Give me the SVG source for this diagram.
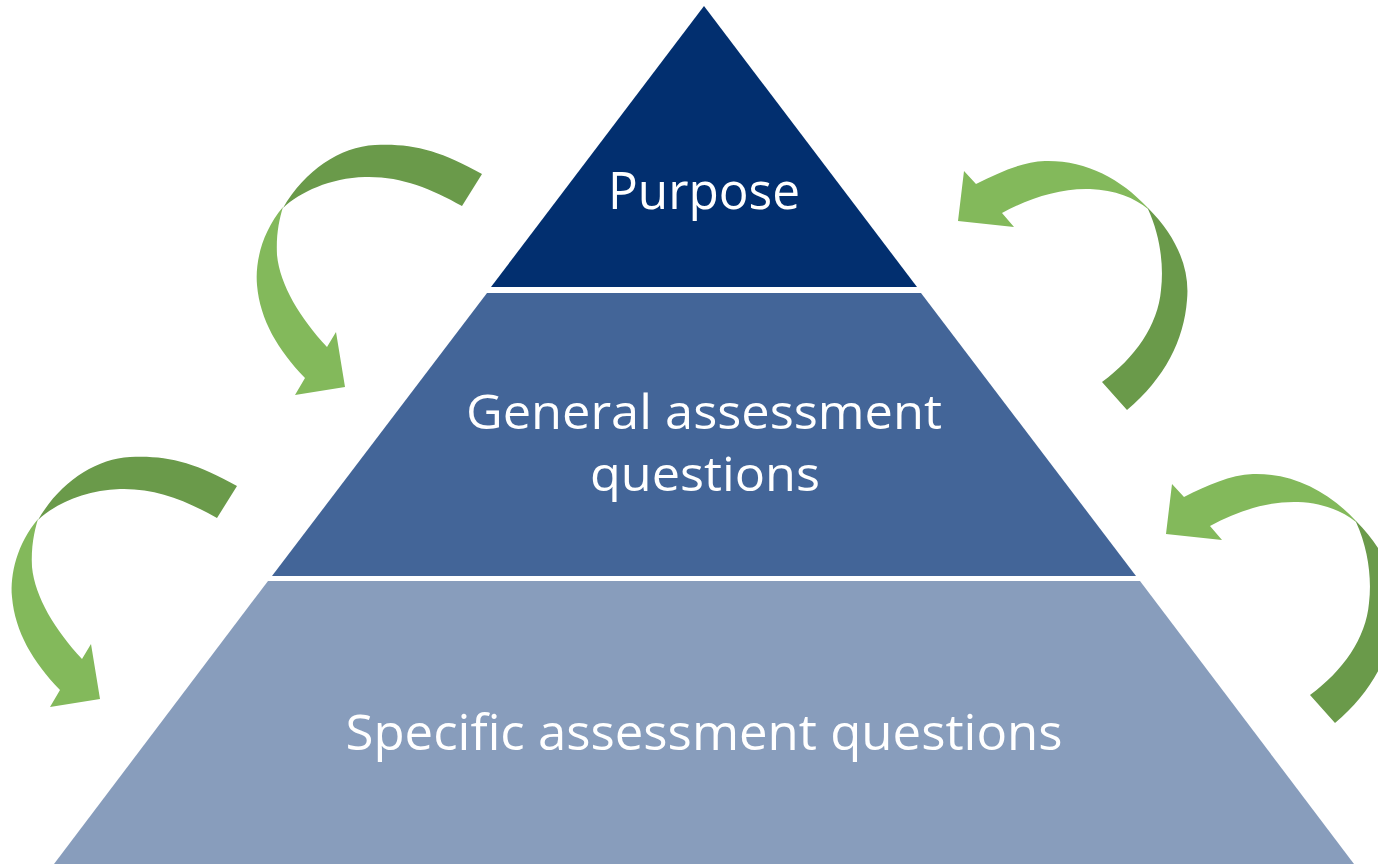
<svg xmlns="http://www.w3.org/2000/svg" width="1378" height="864" viewBox="0 0 1378 864">
<style>
.lbl{font-family:"Open Sans","Noto Sans","Liberation Sans",sans-serif;fill:#ffffff;text-anchor:middle}
.lt{fill:#83B95B}
.dk{fill:#6A9A4A}
</style>
<defs>
<g id="arrowL">
<path class="dk" d="M482,174 C440,150 410,143 375,145 C340,147 305,170 283,208 C300,192 330,178 365,177 C400,176 430,188 462,206 Z"/>
<path class="lt" d="M283,207 C262,232 255,262 257,285 C260,320 278,350 305,378 L295,395 L345,387 L336,332 L327,347 C300,318 280,285 277,255 C276,235 279,220 283,207 Z"/>
</g>
<g id="arrowR">
<path class="lt" d="M1148,208 C1120,178 1085,160 1045,161 C1022,162 1000,172 976,184 L964,171 L958,221 L1014,227 L1002,213 C1030,198 1060,188 1090,189 C1115,190 1135,198 1148,209 Z"/>
<path class="dk" d="M1148,208 C1178,238 1190,270 1187,300 C1184,340 1165,378 1127,410 L1102,382 C1135,358 1158,325 1161,290 C1164,265 1160,235 1148,209 Z"/>
</g>
</defs>
<rect width="1378" height="864" fill="#ffffff"/>
<g id="node-purpose">
<polygon points="704,6 917,287 491,287" fill="#022F6F"/>
<text class="lbl" x="704" y="209" font-size="52" textLength="192" lengthAdjust="spacingAndGlyphs">Purpose</text>
</g>
<g id="node-general">
<polygon points="487,293 921,293 1136,576 272,576" fill="#436598"/>
<text class="lbl" x="704" y="429" font-size="48" textLength="476" lengthAdjust="spacingAndGlyphs">General assessment</text>
<text class="lbl" x="705" y="491" font-size="48" textLength="230" lengthAdjust="spacingAndGlyphs">questions</text>
</g>
<g id="node-specific">
<polygon points="268,581 1140,581 1354,864 54,864" fill="#889DBC"/>
<text class="lbl" x="704" y="750" font-size="50" textLength="717" lengthAdjust="spacingAndGlyphs">Specific assessment questions</text>
</g>
<g id="connectors">
<use href="#arrowL"/>
<use href="#arrowL" transform="translate(-245,312)"/>
<use href="#arrowR"/>
<use href="#arrowR" transform="translate(208,313)"/>
</g>
</svg>
